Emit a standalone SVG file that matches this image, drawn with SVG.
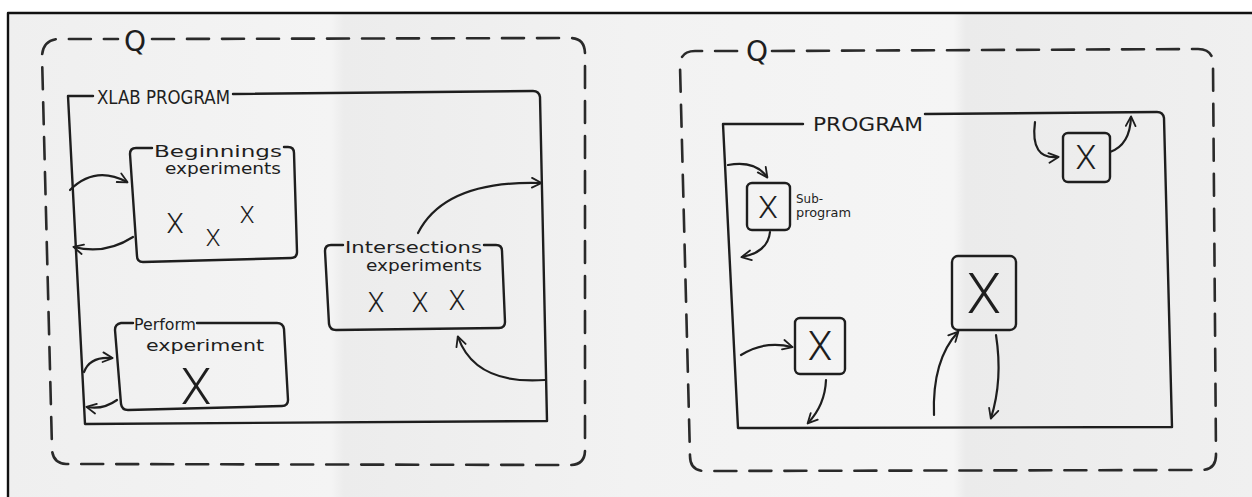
<svg xmlns="http://www.w3.org/2000/svg" width="1252" height="497" viewBox="0 0 1252 497">
<style>
.ln{fill:none;stroke:#1e1e1e;stroke-width:2.4;stroke-linecap:round;stroke-linejoin:round}
.dash{fill:none;stroke:#2a2a2a;stroke-width:2.6;stroke-dasharray:22 13;stroke-linecap:round}
.arr{fill:none;stroke:#1e1e1e;stroke-width:2.2;stroke-linecap:round;marker-end:url(#ah)}
.t{font-family:"DejaVu Sans","Liberation Sans",sans-serif;fill:#1e1e1e}
.x{font-family:Roboto,"Open Sans","DejaVu Sans",sans-serif;font-weight:300;fill:#1e1e1e;text-anchor:middle}
</style>
<defs>
<marker id="ah" viewBox="0 0 10 10" refX="8.5" refY="5" markerWidth="5.5" markerHeight="5.5" orient="auto">
<path d="M1,1 L9,5 L1,9" fill="none" stroke="#1e1e1e" stroke-width="1.5" stroke-linecap="round" stroke-linejoin="round"/>
</marker>
<linearGradient id="fold" x1="0" x2="1" y1="0" y2="0">
<stop offset="0" stop-color="#efefef"/>
<stop offset="0.26" stop-color="#f4f4f4"/>
<stop offset="0.27" stop-color="#ececec"/>
<stop offset="0.5" stop-color="#f2f2f2"/>
<stop offset="0.76" stop-color="#f5f5f5"/>
<stop offset="0.77" stop-color="#ebebeb"/>
<stop offset="1" stop-color="#f0f0f0"/>
</linearGradient>
</defs>
<rect x="0" y="0" width="1252" height="497" fill="#ffffff"/>
<rect x="8" y="13" width="1244" height="484" fill="url(#fold)"/>
<g id="frame">
<path class="ln" d="M8,497 L8,13 L1252,13" stroke-width="2.6" style="stroke:#111"/>
</g>

<!-- LEFT PANEL -->
<g id="q-left">
<path class="dash" d="M152,39 L570,38 Q585,38 585,54 L585,450 Q585,465 570,465 L66,464 Q52,463 52,448 L42,56 Q43,40 58,39 L118,39"/>
<text class="t" x="135" y="51" font-size="28" text-anchor="middle">Q</text>
</g>
<g id="xlab-program">
<path class="ln" d="M93,96 L68,96 L85,424 L547,421 L540,97 Q539,91 533,91 L233,94"/>
<text class="t" x="97" y="104" font-size="19" textLength="133" lengthAdjust="spacingAndGlyphs">XLAB PROGRAM</text>
</g>
<g id="beginnings">
<path class="ln" d="M152,148 L136,148 Q130,148 130,154 L137,256 Q137,262 143,262 L291,258 Q297,258 297,252 L294,153 Q294,147 288,147 L284,147"/>
<text class="t" x="154" y="157" font-size="15" textLength="128" lengthAdjust="spacingAndGlyphs">Beginnings</text>
<text class="t" x="165" y="174" font-size="15" textLength="116" lengthAdjust="spacingAndGlyphs">experiments</text>
<text class="x" x="175" y="233" font-size="28">X</text>
<text class="x" x="213" y="246" font-size="24">X</text>
<text class="x" x="247" y="223" font-size="24">X</text>
</g>
<g id="intersections">
<path class="ln" d="M343,245 L331,245 Q325,245 325,251 L329,324 Q330,330 336,330 L499,328 Q505,328 505,322 L502,251 Q502,245 496,245 L484,245"/>
<text class="t" x="345" y="253" font-size="16" textLength="137" lengthAdjust="spacingAndGlyphs">Intersections</text>
<text class="t" x="366" y="271" font-size="16" textLength="116" lengthAdjust="spacingAndGlyphs">experiments</text>
<text class="x" x="376" y="312" font-size="27">X</text>
<text class="x" x="420" y="312" font-size="27">X</text>
<text class="x" x="457" y="310" font-size="27">X</text>
</g>
<g id="perform">
<path class="ln" d="M133,323 L121,323 Q115,324 115,330 L121,404 Q122,410 128,410 L282,406 Q288,406 288,400 L284,329 Q283,323 277,323 L197,323"/>
<text class="t" x="134" y="330" font-size="16" textLength="62" lengthAdjust="spacingAndGlyphs">Perform</text>
<text class="t" x="146" y="351" font-size="16" textLength="118" lengthAdjust="spacingAndGlyphs">experiment</text>
<text class="x" x="196" y="404" font-size="50">X</text>
</g>

<!-- RIGHT PANEL -->
<g id="q-right">
<path class="dash" d="M772,51 L1198,49 Q1213,49 1213,64 L1216,455 Q1216,470 1201,470 L705,471 Q690,471 690,456 L680,66 Q680,51 695,51 L740,51"/>
<text class="t" x="757" y="61" font-size="28" text-anchor="middle">Q</text>
</g>
<g id="program">
<path class="ln" d="M803,124 L723,124 L738,428 L1172,427 L1164,118 Q1163,112 1157,112 L925,114"/>
<text class="t" x="813" y="131" font-size="19" textLength="110" lengthAdjust="spacingAndGlyphs">PROGRAM</text>
</g>
<g id="subprogram">
<rect class="ln" x="747" y="183" width="43" height="47" rx="5"/>
<text class="x" x="768" y="218" font-size="32">X</text>
<text class="t" x="796" y="203" font-size="13" textLength="27" lengthAdjust="spacingAndGlyphs">Sub-</text>
<text class="t" x="796" y="217" font-size="13" textLength="55" lengthAdjust="spacingAndGlyphs">program</text>
</g>
<g id="box-topright">
<rect class="ln" x="1063" y="133" width="47" height="49" rx="5"/>
<text class="x" x="1086" y="169" font-size="34">X</text>
</g>
<g id="box-small">
<rect class="ln" x="795" y="318" width="50" height="56" rx="5"/>
<text class="x" x="820" y="360" font-size="40">X</text>
</g>
<g id="box-big">
<rect class="ln" x="952" y="256" width="64" height="74" rx="6"/>
<text class="x" x="984" y="313" font-size="56">X</text>
</g>

<g id="connectors">
<path class="arr" d="M70,190 Q95,165 127,182"/>
<path class="arr" d="M133,237 Q105,255 74,247"/>
<path class="arr" d="M418,233 Q445,180 541,183"/>
<path class="arr" d="M545,380 Q475,385 458,337"/>
<path class="arr" d="M84,372 Q90,356 112,358"/>
<path class="arr" d="M117,400 Q103,410 87,407"/>
<path class="arr" d="M728,165 Q755,160 767,177"/>
<path class="arr" d="M770,232 Q768,252 742,257"/>
<path class="arr" d="M1035,122 Q1030,160 1058,157"/>
<path class="arr" d="M1110,152 Q1130,145 1131,117"/>
<path class="arr" d="M741,355 Q765,340 792,347"/>
<path class="arr" d="M826,380 Q825,405 808,423"/>
<path class="arr" d="M934,415 Q932,360 958,332"/>
<path class="arr" d="M996,335 Q1003,380 991,418"/>
</g>
</svg>
